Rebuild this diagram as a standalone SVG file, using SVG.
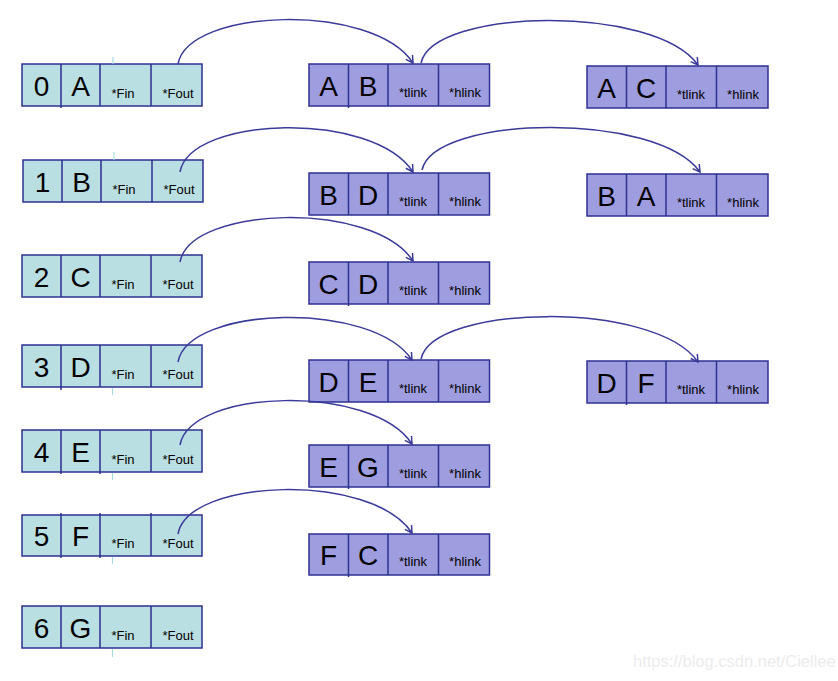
<svg xmlns="http://www.w3.org/2000/svg" width="838" height="681" viewBox="0 0 838 681">
<style>
.bg{fill:#ffffff}
.vl rect{fill:#badfe3;stroke:#2e3192;stroke-width:1.5}
.en rect{fill:#9e9ddf;stroke:#2e3192;stroke-width:1.5}
.dv{stroke:#2e3192;stroke-width:1.5}
.big{font-family:"Liberation Sans",Arial,sans-serif;font-size:28px;fill:#000;text-anchor:middle}
.sm{font-family:"Liberation Sans",Arial,sans-serif;font-size:13px;fill:#000;text-anchor:middle}
.tk{stroke:#a8dbe0;stroke-width:1.2}
.edge path{fill:none;stroke:#3a3a9a;stroke-width:1.5;marker-end:url(#ah)}
.wm{font-family:"Liberation Sans",Arial,sans-serif;font-size:16.5px;fill:#ececec}
</style>
<defs>
<marker id="ah" markerUnits="userSpaceOnUse" markerWidth="12" markerHeight="12" refX="9" refY="6" orient="auto" viewBox="0 0 12 12">
<path d="M2,2 L9,6 L2,10" fill="none" stroke="#3a3a9a" stroke-width="1.5"/>
</marker>
</defs>
<rect class="bg" x="0" y="0" width="838" height="681"/>

<!-- vertex nodes -->
<g id="v0" class="vl"><rect x="22" y="64" width="180" height="42"/><path class="dv" d="M61,64V108M100,64V106M151,64V106"/><line class="tk" x1="113" y1="57" x2="113" y2="64"/><text class="big" x="41.5" y="96">0</text><text class="big" x="80.5" y="96">A</text><text class="sm" x="123" y="98">*Fin</text><text class="sm" x="178" y="98">*Fout</text></g>
<g id="v1" class="vl"><rect x="23" y="160" width="180" height="42"/><path class="dv" d="M62,160V202M101,160V202M152,160V202"/><line class="tk" x1="114" y1="152" x2="114" y2="160"/><text class="big" x="42.5" y="192">1</text><text class="big" x="81.5" y="192">B</text><text class="sm" x="124" y="194">*Fin</text><text class="sm" x="179" y="194">*Fout</text></g>
<g id="v2" class="vl"><rect x="22" y="255" width="180" height="42"/><path class="dv" d="M61,255V297M100,255V297M151,255V297"/><text class="big" x="41.5" y="287">2</text><text class="big" x="80.5" y="287">C</text><text class="sm" x="123" y="289">*Fin</text><text class="sm" x="178" y="289">*Fout</text></g>
<g id="v3" class="vl"><rect x="22" y="345" width="180" height="42"/><path class="dv" d="M61,345V390M100,345V387M151,345V387"/><line class="tk" x1="112.5" y1="388" x2="112.5" y2="395"/><text class="big" x="41.5" y="377">3</text><text class="big" x="80.5" y="377">D</text><text class="sm" x="123" y="379">*Fin</text><text class="sm" x="178" y="379">*Fout</text></g>
<g id="v4" class="vl"><rect x="22" y="430" width="180" height="42"/><path class="dv" d="M61,430V474M100,430V474M151,430V472"/><line class="tk" x1="112.5" y1="473" x2="112.5" y2="480"/><text class="big" x="41.5" y="462">4</text><text class="big" x="80.5" y="462">E</text><text class="sm" x="123" y="464">*Fin</text><text class="sm" x="178" y="464">*Fout</text></g>
<g id="v5" class="vl"><rect x="22" y="515" width="180" height="41"/><path class="dv" d="M61,513V558M100,513V558M151,513V556"/><line class="tk" x1="112.5" y1="557" x2="112.5" y2="564"/><text class="big" x="41.5" y="546">5</text><text class="big" x="80.5" y="546">F</text><text class="sm" x="123" y="548">*Fin</text><text class="sm" x="178" y="548">*Fout</text></g>
<g id="v6" class="vl"><rect x="22" y="606" width="180" height="42"/><path class="dv" d="M61,606V648M100,606V648M151,606V648"/><line class="tk" x1="112.5" y1="649" x2="112.5" y2="657"/><text class="big" x="41.5" y="638">6</text><text class="big" x="80.5" y="638">G</text><text class="sm" x="123" y="640">*Fin</text><text class="sm" x="178" y="640">*Fout</text></g>

<!-- edge nodes -->
<g id="eAB" class="en"><rect x="309" y="64" width="180.5" height="42"/><path class="dv" d="M348.5,64V108M388,64V106M438.5,64V106"/><text class="big" x="328.5" y="96">A</text><text class="big" x="368" y="96">B</text><text class="sm" x="413" y="97">*tlink</text><text class="sm" x="465" y="97">*hlink</text></g>
<g id="eAC" class="en"><rect x="587" y="66" width="181" height="42"/><path class="dv" d="M626.5,66V108M666,66V108M716.5,66V108"/><text class="big" x="606.5" y="98">A</text><text class="big" x="646" y="98">C</text><text class="sm" x="691" y="99">*tlink</text><text class="sm" x="743" y="99">*hlink</text></g>
<g id="eBD" class="en"><rect x="309" y="173" width="180.5" height="42"/><path class="dv" d="M348.5,173V215M388,173V215M438.5,173V215"/><text class="big" x="328.5" y="205">B</text><text class="big" x="368" y="205">D</text><text class="sm" x="413" y="206">*tlink</text><text class="sm" x="465" y="206">*hlink</text></g>
<g id="eBA" class="en"><rect x="587" y="174" width="181" height="42"/><path class="dv" d="M626.5,174V216M666,174V216M716.5,174V216"/><text class="big" x="606.5" y="206">B</text><text class="big" x="646" y="206">A</text><text class="sm" x="691" y="207">*tlink</text><text class="sm" x="743" y="207">*hlink</text></g>
<g id="eCD" class="en"><rect x="309" y="262" width="180.5" height="42"/><path class="dv" d="M348.5,262V306M388,262V304M438.5,262V304"/><text class="big" x="328.5" y="294">C</text><text class="big" x="368" y="294">D</text><text class="sm" x="413" y="295">*tlink</text><text class="sm" x="465" y="295">*hlink</text></g>
<g id="eDE" class="en"><rect x="309" y="360" width="180.5" height="42"/><path class="dv" d="M348.5,360V402M388,360V402M438.5,360V402"/><text class="big" x="328.5" y="392">D</text><text class="big" x="368" y="392">E</text><text class="sm" x="413" y="393">*tlink</text><text class="sm" x="465" y="393">*hlink</text></g>
<g id="eDF" class="en"><rect x="587" y="361" width="181" height="42"/><path class="dv" d="M626.5,361V405M666,361V403M716.5,361V403"/><text class="big" x="606.5" y="393">D</text><text class="big" x="646" y="393">F</text><text class="sm" x="691" y="394">*tlink</text><text class="sm" x="743" y="394">*hlink</text></g>
<g id="eEG" class="en"><rect x="309" y="445" width="180.5" height="42"/><path class="dv" d="M348.5,445V489M388,445V487M438.5,445V487"/><text class="big" x="328.5" y="477">E</text><text class="big" x="368" y="477">G</text><text class="sm" x="413" y="478">*tlink</text><text class="sm" x="465" y="478">*hlink</text></g>
<g id="eFC" class="en"><rect x="309" y="534" width="180.5" height="41"/><path class="dv" d="M348.5,534V577M388,534V575M438.5,534V575"/><text class="big" x="328.5" y="565">F</text><text class="big" x="368" y="565">C</text><text class="sm" x="413" y="566">*tlink</text><text class="sm" x="465" y="566">*hlink</text></g>

<!-- connectors -->
<g id="edges" class="edge">
<path d="M178,64 C188,8 373,2 413,63"/>
<path d="M421,63 C433,8 655,4 698,65"/>
<path d="M180,172 C190,116 373,110 413,172"/>
<path d="M422,170 C434,115 657,111 700,172"/>
<path d="M180,262 C190,206 373,200 413,261"/>
<path d="M178,362 C188,306 372,300 412,360"/>
<path d="M421,359 C433,304 655,300 698,362"/>
<path d="M180,445 C190,389 372,383 412,444"/>
<path d="M178,534 C188,478 372,472 412,533"/>
</g>

<text class="wm" x="633" y="667">https://blog.csdn.net/Ciellee</text>
</svg>
